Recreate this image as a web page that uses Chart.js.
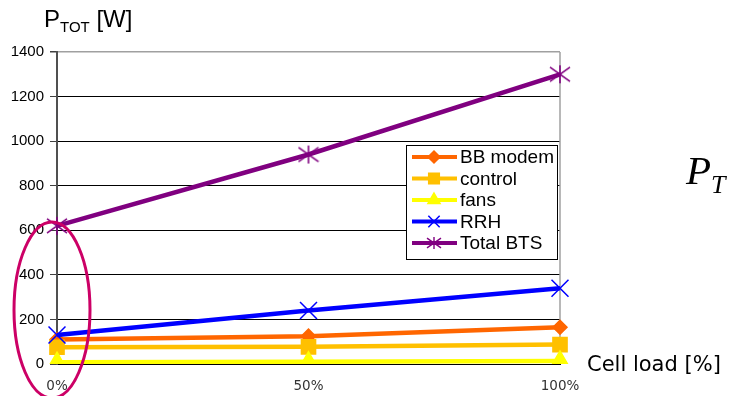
<!DOCTYPE html>
<html>
<head>
<meta charset="utf-8">
<script src="https://cdn.jsdelivr.net/npm/chart.js@4.4.1/dist/chart.umd.min.js"></script>
<style>
  html, body { margin:0; padding:0; background:#fff; }
  #wrap { position:relative; width:729px; height:396px; overflow:hidden; }
  canvas { position:absolute; left:0; top:0; }
  .t { position:absolute; white-space:nowrap; color:#000; }
  #ytitle { left:44px; top:5px; font-family:"Liberation Sans", Arial, sans-serif; font-size:24px; }
  #ytitle sub { font-size:15px; vertical-align:-5px; }
  #xtitle { left:587px; top:352px; font-family:"DejaVu Sans", Verdana, sans-serif; font-size:21px; }
  #ptot { left:686px; top:146px; font-family:"Liberation Serif", "Times New Roman", serif; font-style:italic; font-size:41px; }
  #ptot sub { font-size:26px; vertical-align:-9px; }
</style>
</head>
<body>
<div id="wrap">
  <canvas id="c" width="729" height="396"></canvas>
  <div class="t" id="ytitle">P<sub>TOT</sub> [W]</div>
  <div class="t" id="xtitle">Cell load [%]</div>
  <div class="t" id="ptot">P<sub>T</sub></div>
</div>
<script>
const categories = ['0%', '50%', '100%'];
const bbModem = [110, 125, 165];
const control = [75, 77, 87];
const fans = [8, 10, 14];
const rrh = [130, 240, 340];
const totalBTS = [620, 940, 1300];
const yTicks = [0, 200, 400, 600, 800, 1000, 1200, 1400];

function starMarker(w, h, color, lw) {
  const c = document.createElement('canvas');
  c.width = w; c.height = h;
  const g = c.getContext('2d');
  const cx = w / 2, cy = h / 2, rx = cx - 1, ry = cy - 1;
  g.strokeStyle = color; g.lineWidth = lw;
  g.beginPath();
  g.moveTo(cx - rx, cy - ry * 0.8); g.lineTo(cx + rx, cy + ry * 0.8);
  g.moveTo(cx + rx, cy - ry * 0.8); g.lineTo(cx - rx, cy + ry * 0.8);
  g.moveTo(cx, cy - ry); g.lineTo(cx, cy + ry);
  g.stroke();
  return c;
}
const starBig = starMarker(22, 20, '#800080', 1.6);
const starSmall = starMarker(16, 14, '#800080', 1.4);

const series = [
  { label: 'BB modem', data: bbModem, color: '#FF6600', style: 'rectRot', r: 7, lr: 6 },
  { label: 'control', data: control, color: '#FFC000', style: 'rect', r: 10, lr: 7.5 },
  { label: 'fans', data: fans, color: '#FFFF00', style: 'triangle', r: 10, lr: 7 },
  { label: 'RRH', data: rrh, color: '#0000FF', style: 'crossRot', r: 12, lr: 8 },
  { label: 'Total BTS', data: totalBTS, color: '#800080', style: starBig, r: 11, lr: 8, legendImg: starSmall }
];

const legendPlugin = {
  id: 'boxLegend',
  afterDatasetsDraw(chart) {
    const ctx = chart.ctx;
    const x0 = 406, y0 = 145, w = 151, h = 114;
    ctx.save();
    ctx.fillStyle = '#fff';
    ctx.fillRect(x0, y0, w, h);
    ctx.strokeStyle = '#000';
    ctx.lineWidth = 1;
    ctx.strokeRect(x0 + 0.5, y0 + 0.5, w, h);
    series.forEach((s, i) => {
      const y = 157 + i * 21.5;
      ctx.strokeStyle = s.color;
      ctx.lineWidth = 4;
      ctx.beginPath();
      ctx.moveTo(412, y); ctx.lineTo(457, y);
      ctx.stroke();
      if (s.legendImg) {
        ctx.drawImage(s.legendImg, 434 - s.legendImg.width / 2, y - s.legendImg.height / 2);
      } else {
        ctx.fillStyle = s.color;
        ctx.strokeStyle = s.color;
        ctx.lineWidth = 1.5;
        Chart.helpers.drawPoint(ctx, { pointStyle: s.style, radius: s.lr, rotation: 0, borderWidth: 1.5 }, 434, y);
      }
      ctx.fillStyle = '#000';
      ctx.font = '19px "Liberation Sans", Arial, sans-serif';
      ctx.textBaseline = 'middle';
      ctx.textAlign = 'left';
      ctx.fillText(s.label, 460, y + 1);
    });
    ctx.restore();
  }
};

const decoPlugin = {
  id: 'deco',
  beforeDatasetsDraw(chart) {
    const ctx = chart.ctx, a = chart.chartArea;
    ctx.save();
    ctx.strokeStyle = '#A0A0A0';
    ctx.lineWidth = 1.5;
    ctx.beginPath();
    ctx.moveTo(a.right, a.top); ctx.lineTo(a.right, a.bottom);
    ctx.stroke();
    ctx.restore();
  },
  afterDraw(chart) {
    const ctx = chart.ctx;
    ctx.save();
    ctx.strokeStyle = '#CC0066';
    ctx.lineWidth = 3;
    ctx.beginPath();
    ctx.ellipse(52, 310, 38, 88, 0, 0, Math.PI * 2);
    ctx.stroke();
    ctx.restore();
  }
};

new Chart(document.getElementById('c'), {
  type: 'line',
  data: {
    labels: categories,
    datasets: series.map(s => ({
      label: s.label,
      data: s.data,
      borderColor: s.color,
      backgroundColor: s.color,
      borderWidth: 4.5,
      pointStyle: s.style,
      pointRadius: s.r,
      pointBorderWidth: 1.5,
      pointBorderColor: s.color,
      pointBackgroundColor: s.color,
      tension: 0,
      fill: false
    })).reverse()
  },
  options: {
    responsive: false,
    animation: false,
    layout: { padding: { left: 0, right: 169, top: 52, bottom: 0 } },
    plugins: { legend: { display: false }, tooltip: { enabled: false }, title: { display: false } },
    scales: {
      x: {
        type: 'category',
        offset: false,
        grid: { display: false, drawTicks: false },
        border: { display: true, color: '#000', width: 1 },
        ticks: { color: '#333', font: { family: '"DejaVu Sans", Verdana, sans-serif', size: 13.5 }, padding: 14, maxRotation: 0 },
        afterFit(s) { s.height = 32; }
      },
      y: {
        min: 0, max: 1400,
        afterBuildTicks(s) { s.ticks = yTicks.map(v => ({ value: v })); },
        grid: {
          color: ctx => (ctx.tick && ctx.tick.value === 1400) ? '#A0A0A0' : '#000',
          lineWidth: ctx => (ctx.tick && ctx.tick.value === 1400) ? 1.5 : 1,
          tickLength: 7,
          tickColor: '#404040'
        },
        border: { display: true, color: '#505050', width: 2 },
        ticks: { color: '#000', font: { family: '"Liberation Sans", Arial, sans-serif', size: 15 }, padding: 6, callback: v => String(v) },
        afterFit(s) { s.width = 57; }
      }
    }
  },
  plugins: [decoPlugin, legendPlugin]
});
</script>
</body>
</html>
